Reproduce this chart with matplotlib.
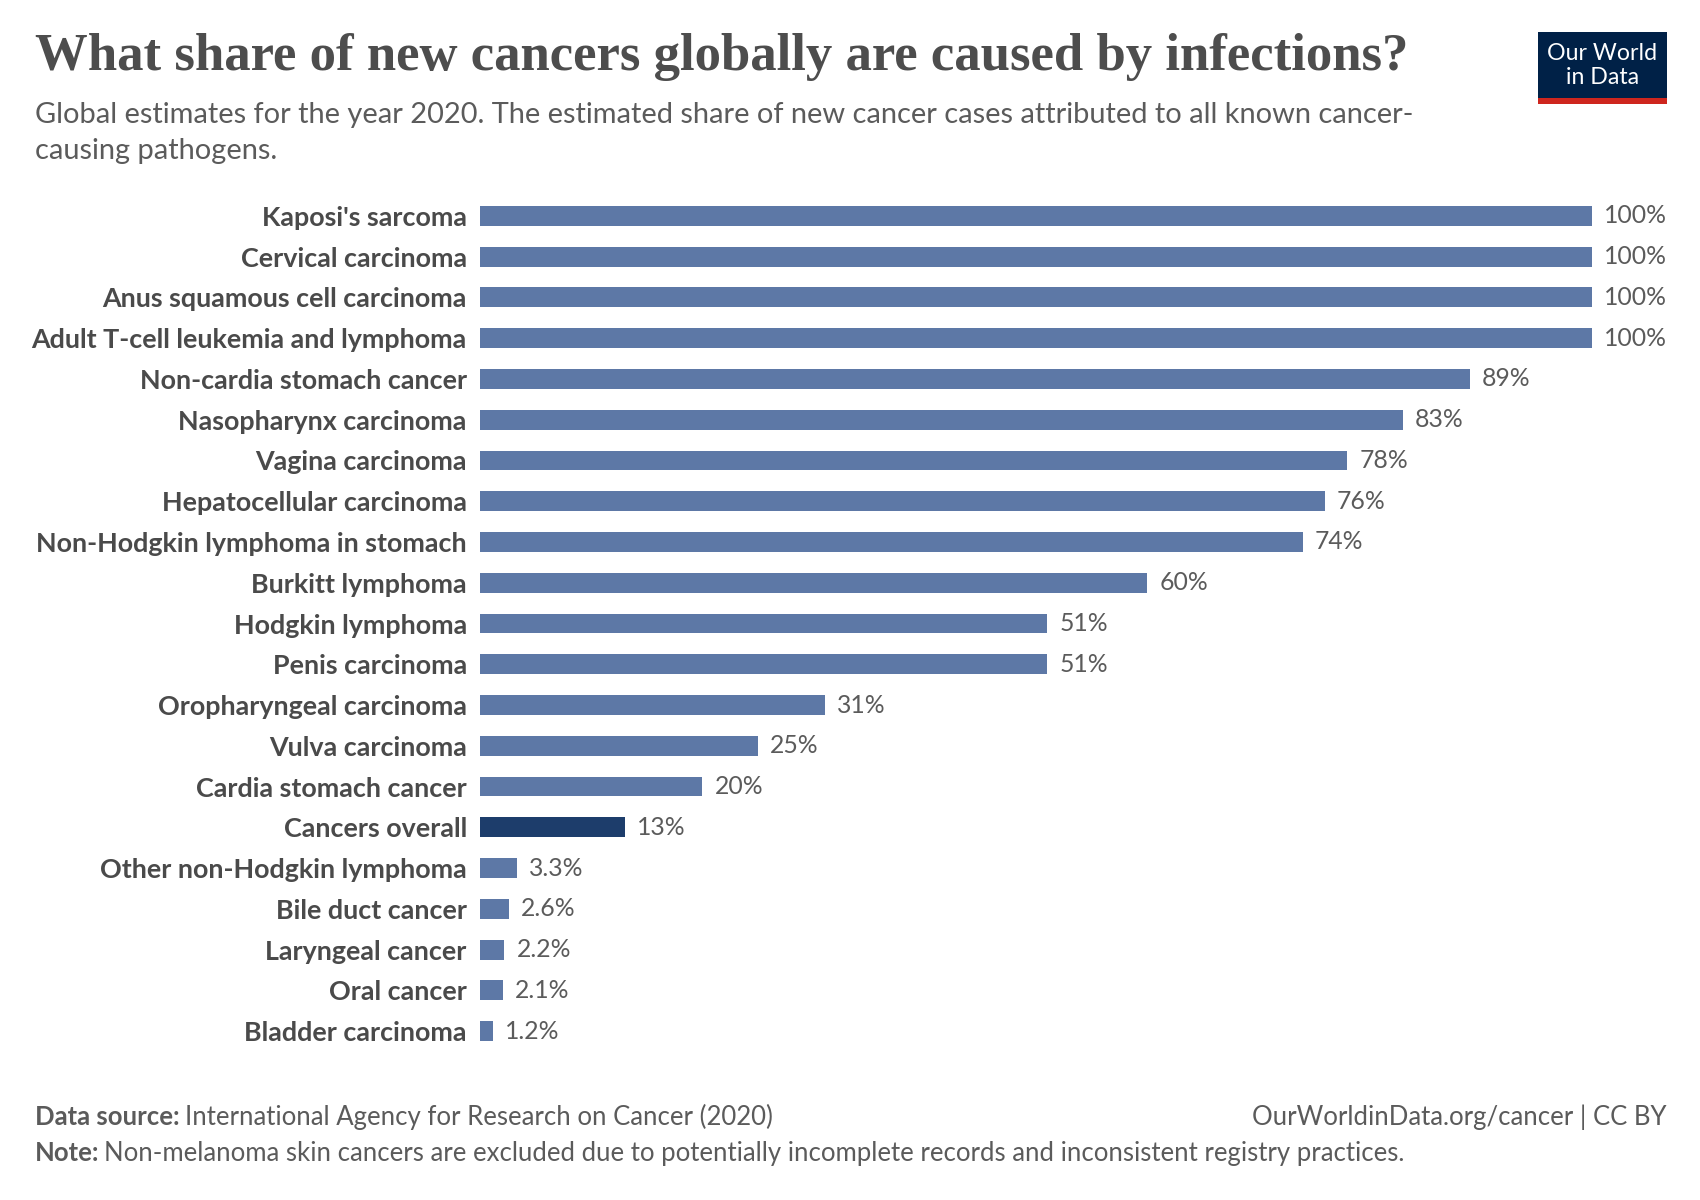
import matplotlib
matplotlib.use("Agg")
import matplotlib.pyplot as plt
from matplotlib.patches import Rectangle

categories = ["Kaposi's sarcoma", "Cervical carcinoma", "Anus squamous cell carcinoma",
              "Adult T-cell leukemia and lymphoma", "Non-cardia stomach cancer",
              "Nasopharynx carcinoma", "Vagina carcinoma", "Hepatocellular carcinoma",
              "Non-Hodgkin lymphoma in stomach", "Burkitt lymphoma", "Hodgkin lymphoma",
              "Penis carcinoma", "Oropharyngeal carcinoma", "Vulva carcinoma",
              "Cardia stomach cancer", "Cancers overall", "Other non-Hodgkin lymphoma",
              "Bile duct cancer", "Laryngeal cancer", "Oral cancer", "Bladder carcinoma"]
values = [100, 100, 100, 100, 89, 83, 78, 76, 74, 60, 51, 51, 31, 25, 20, 13,
          3.3, 2.6, 2.2, 2.1, 1.2]
value_labels = ["100%", "100%", "100%", "100%", "89%", "83%", "78%", "76%", "74%", "60%",
                "51%", "51%", "31%", "25%", "20%", "13%", "3.3%", "2.6%", "2.2%", "2.1%", "1.2%"]
highlight = "Cancers overall"

W, H = 1700, 1200
fig = plt.figure(figsize=(17, 12), dpi=100)
fig.patch.set_facecolor("white")

# axes in pixel coords
x0, x1 = 480, 1592
ytop, ybot = 195.6, 1051.4
ax = fig.add_axes([x0 / W, 1 - ybot / H, (x1 - x0) / W, (ybot - ytop) / H])
n = len(categories)
pos = list(range(n))
colors = ["#1d3d6b" if c == highlight else "#5d78a6" for c in categories]
ax.barh(pos, values, height=0.49, color=colors)
ax.set_xlim(0, 100)
ax.set_ylim(n - 0.5, -0.5)
for s in ax.spines.values():
    s.set_visible(False)
ax.set_xticks([])
ax.set_yticks(pos)
ax.set_yticklabels(categories, fontfamily="Lato", fontweight="bold", fontsize=19.4, color="#4a4a4a")
ax.tick_params(axis="y", length=0, pad=9.5)
for p, v, lab in zip(pos, values, value_labels):
    ax.annotate(lab, (v, p), xytext=(12, 0), textcoords="offset pixels", va="center", ha="left",
                fontfamily="Lato", fontsize=17.8, color="#5b5b5b")

# title & subtitle
fig.text(35 / W, 1 - 57 / H, "What share of new cancers globally are caused by infections?",
         fontfamily="Liberation Serif", fontweight="bold", fontsize=38, color="#4d4d4d",
         va="center", ha="left")
fig.text(35 / W, 1 - 115 / H, "Global estimates for the year 2020. The estimated share of new cancer cases attributed to all known cancer-",
         fontfamily="Lato", fontsize=20.9, color="#5b5b5b", va="center", ha="left")
fig.text(35 / W, 1 - 151 / H, "causing pathogens.",
         fontfamily="Lato", fontsize=20.9, color="#5b5b5b", va="center", ha="left")

# logo
fig.patches.append(Rectangle((1538 / W, 1 - 98.5 / H), (1667 - 1538) / W, (98.5 - 32) / H,
                             transform=fig.transFigure, facecolor="#002147", edgecolor="none"))
fig.patches.append(Rectangle((1538 / W, 1 - 104 / H), (1667 - 1538) / W, 5.5 / H,
                             transform=fig.transFigure, facecolor="#ce261e", edgecolor="none"))
fig.text(1602.5 / W, 1 - 54 / H, "Our World", fontfamily="Lato", fontsize=16.7, color="white",
         ha="center", va="center")
fig.text(1602.5 / W, 1 - 78 / H, "in Data", fontfamily="Lato", fontsize=16.7, color="white",
         ha="center", va="center")

# footer
fs = 18.5
t = fig.text(35 / W, 1 - 1117 / H, "Data source:", fontfamily="Lato", fontweight="bold",
             fontsize=fs, color="#5b5b5b", va="center", ha="left")
fig.canvas.draw()
r = fig.canvas.get_renderer()
bb = t.get_window_extent(r)
fig.text((bb.x1 + 5) / W, 1 - 1117 / H, "International Agency for Research on Cancer (2020)",
         fontfamily="Lato", fontsize=fs, color="#5b5b5b", va="center", ha="left")
t2 = fig.text(35 / W, 1 - 1153 / H, "Note:", fontfamily="Lato", fontweight="bold",
              fontsize=fs, color="#5b5b5b", va="center", ha="left")
bb2 = t2.get_window_extent(r)
fig.text((bb2.x1 + 5) / W, 1 - 1153 / H,
         "Non-melanoma skin cancers are excluded due to potentially incomplete records and inconsistent registry practices.",
         fontfamily="Lato", fontsize=fs, color="#5b5b5b", va="center", ha="left")
fig.text(1666 / W, 1 - 1117 / H, "OurWorldinData.org/cancer | CC BY", fontfamily="Lato",
         fontsize=fs, color="#5b5b5b", va="center", ha="right")

fig.savefig("out.png", dpi=100, facecolor="white")
